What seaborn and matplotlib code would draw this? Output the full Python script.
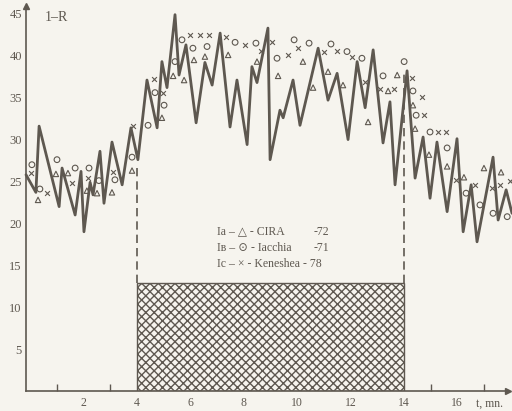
import numpy as np
import pandas as pd
import matplotlib
matplotlib.use("Agg")
import matplotlib.pyplot as plt
import seaborn as sns

# measured 1-R curve (zigzag), time in minutes
t_line = [-0.15, 0.22, 0.34, 1.09, 1.20, 1.69, 1.91, 2.02, 2.25, 2.36, 2.62, 2.77,
          3.07, 3.45, 3.78, 4.04, 4.38, 4.76, 4.94, 5.13, 5.43, 5.58, 5.84, 6.22,
          6.55, 6.82, 7.12, 7.49, 7.75, 8.13, 8.31, 8.50, 8.91, 8.99, 9.36, 9.48,
          9.85, 10.11, 10.79, 11.16, 11.50, 11.91, 12.25, 12.55, 12.85, 13.22,
          13.48, 13.67, 14.12, 14.42, 14.72, 14.98, 15.24, 15.62, 15.99, 16.22,
          16.52, 16.74, 17.34, 17.53, 17.83, 18.05]
r_line = [25.8, 23.7, 31.6, 22.0, 26.6, 21.0, 26.2, 19.0, 24.9, 23.4, 28.6, 22.4,
          29.7, 24.6, 31.4, 27.6, 37.1, 31.4, 39.3, 36.2, 44.9, 37.7, 41.3, 32.0,
          39.2, 36.5, 42.7, 31.5, 37.1, 29.4, 38.7, 36.8, 43.3, 27.6, 33.5, 32.6,
          37.1, 31.7, 40.9, 34.7, 37.9, 30.0, 39.3, 33.8, 40.7, 29.6,
          34.5, 24.6, 38.2, 25.4, 30.3, 23.0, 29.7, 21.4, 30.1, 19.0,
          24.6, 17.8, 27.9, 20.4, 24.0, 21.2]

# model values
t_cira = [0.30, 0.97, 1.42, 2.13, 2.51, 3.07, 3.82, 4.94, 5.36, 5.77, 6.14, 6.55,
          7.42, 8.50, 9.29, 10.22, 10.60, 11.16, 11.72, 12.66, 13.41, 13.75, 14.34,
          14.42, 14.94, 15.62, 16.25, 17.00, 17.64]
r_cira = [22.8, 25.9, 26.0, 23.9, 23.6, 23.7, 26.3, 32.6, 37.6, 37.1, 39.5, 39.9,
          40.1, 39.3, 37.6, 39.3, 36.2, 38.1, 36.5, 32.1, 35.8, 37.7, 34.1,
          31.3, 28.2, 26.8, 25.5, 26.6, 26.1]

t_jacchia = [0.07, 0.37, 1.01, 1.69, 2.21, 2.58, 3.18, 3.82, 4.42, 4.68, 5.02, 5.43,
             5.69, 6.10, 6.63, 7.68, 8.46, 9.25, 9.89, 10.45, 11.27, 11.87, 12.43,
             13.22, 14.01, 14.34, 14.46, 14.98, 15.62, 16.33, 16.85, 17.34, 17.87]
r_jacchia = [27.0, 24.1, 27.6, 26.6, 26.6, 25.1, 25.2, 27.9, 31.7, 35.6, 34.1, 39.3,
             41.9, 40.9, 41.1, 41.6, 41.5, 39.7, 41.9, 41.5, 41.4, 40.5, 39.7,
             37.6, 39.3, 35.8, 32.9, 30.9, 29.0, 23.6, 22.2, 21.2, 20.8]

t_keneshea = [0.04, 0.64, 1.57, 2.17, 3.11, 3.86, 4.64, 4.98, 5.99, 6.37, 6.70, 7.34,
              8.05, 8.65, 9.06, 9.66, 10.04, 11.01, 11.50, 12.06, 12.55, 13.11, 13.63,
              14.31, 14.68, 14.76, 15.28, 15.58, 15.96, 16.67, 17.30, 17.60, 17.98]
r_keneshea = [26.0, 23.6, 24.8, 25.4, 26.1, 31.6, 37.2, 35.6, 42.5, 42.5, 42.5, 42.2,
              41.3, 40.6, 41.6, 40.1, 40.9, 40.5, 40.6, 39.9, 36.9, 36.0, 36.0,
              37.4, 35.1, 32.9, 30.9, 30.9, 25.2, 24.6, 24.2, 24.6, 25.1]

# hatched interval
t_start, t_end, hatch_top = 4, 14, 12.9
dash_tops = [27.0, 38.0]
minor_ticks = [1, 3, 15, 17]

ink = "#5e5850"
paper = "#f6f4ee"

sns.set_theme(style="white")
plt.rcParams["font.family"] = ["Liberation Serif", "DejaVu Serif", "DejaVu Sans"]
plt.rcParams["hatch.linewidth"] = 1.0
plt.rcParams["hatch.color"] = ink

fig = plt.figure(figsize=(5.12, 4.11), dpi=100, facecolor=paper)
ax = fig.add_axes([0.0508, 0.0487, 0.9414, 0.9319])
ax.set_facecolor(paper)

line_df = pd.DataFrame({"t": t_line, "r": r_line})
sns.lineplot(data=line_df, x="t", y="r", sort=False, color=ink, lw=2.0,
             ax=ax, clip_on=False)

ax.bar(t_start, hatch_top, width=t_end - t_start, align="edge", fill=False,
       hatch="xxxx", edgecolor=ink, linewidth=1.0)
ax.plot([t_start, t_start], [hatch_top, dash_tops[0]], color=ink, lw=1.2, ls=(0, (5, 3)))
ax.plot([t_end, t_end], [hatch_top, dash_tops[1]], color=ink, lw=1.2, ls=(0, (5, 3)))

sns.scatterplot(x=t_cira, y=r_cira, marker="^", s=15, facecolor="none",
                edgecolor=ink, linewidth=0.8, ax=ax, clip_on=False)
sns.scatterplot(x=t_jacchia, y=r_jacchia, marker="o", s=17, facecolor="none",
                edgecolor=ink, linewidth=0.8, ax=ax, clip_on=False)
sns.scatterplot(x=t_keneshea, y=r_keneshea, marker="x", s=12, color=ink,
                linewidth=0.8, ax=ax, clip_on=False)

ax.set_xlim(-0.15, 17.9)
ax.set_ylim(0, 45.7)

for s in ["top", "right"]:
    ax.spines[s].set_visible(False)
for s in ["left", "bottom"]:
    ax.spines[s].set_color(ink)
    ax.spines[s].set_linewidth(1.2)
ax.plot([0], [1.005], marker="^", ms=5, color=ink, transform=ax.transAxes, clip_on=False)
ax.plot([1.0], [0], marker=">", ms=5, color=ink, transform=ax.transAxes, clip_on=False)

ax.set_yticks(range(5, 50, 5))
ax.set_xticks(range(2, 18, 2))
ax.set_xticks(minor_ticks, minor=True)
ax.tick_params(axis="y", direction="in", length=5, width=1, color=ink,
               labelcolor=ink, labelsize=9, pad=3)
ax.tick_params(axis="x", which="major", length=0, labelcolor=ink, labelsize=8.5, pad=4)
ax.tick_params(axis="x", which="minor", direction="in", length=5, width=1,
               color=ink, bottom=True)
ax.set_xlabel("")
ax.set_ylabel("")

ax.text(0.55, 44.6, "1–R", fontsize=10, color=ink, va="center", ha="left")
ax.text(17.2, -1.55, "t, mn.", fontsize=8.5, color=ink, va="center", ha="center",
        clip_on=False)

ax.text(7.0, 19.0, "Ia – △ - CIRA", fontsize=8.5, color=ink, va="center")
ax.text(10.6, 19.0, "-72", fontsize=8.5, color=ink, va="center")
ax.text(7.0, 17.1, "Iв – ⊙ - Iacchia", fontsize=8.5, color=ink, va="center")
ax.text(10.6, 17.1, "-71", fontsize=8.5, color=ink, va="center")
ax.text(7.0, 15.2, "Ic – × - Keneshea - 78", fontsize=8.5, color=ink, va="center")

fig.savefig("out.png", dpi=100, facecolor=paper)
